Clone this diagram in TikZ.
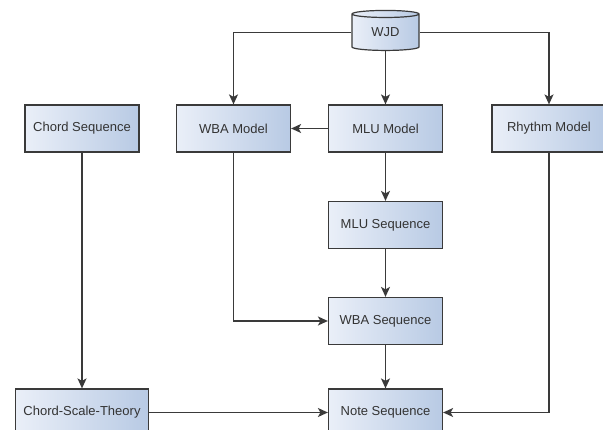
\documentclass[tikz,border=0pt]{standalone}
\usepackage{fontspec}
\setmainfont{Liberation Sans}
\usepackage{xcolor}
\usepackage{tikz}
\usetikzlibrary{arrows.meta,shapes.geometric}
\definecolor{boxlite}{RGB}{234,239,248}
\definecolor{boxdark}{RGB}{184,202,228}
\definecolor{edge}{RGB}{58,58,58}
\definecolor{ink}{RGB}{51,51,51}

\begin{document}
\begin{tikzpicture}[x=1pt, y=-1pt,
  every node/.style={font=\fontsize{13}{15}\selectfont, text=ink},
  box/.style={draw=edge, line width=1.2pt, left color=boxlite, right color=boxdark,
    minimum width=114pt, minimum height=47pt, inner sep=0pt},
  db/.style={cylinder, shape border rotate=90, aspect=0.25, draw=edge, line width=1.2pt,
    left color=boxlite, right color=boxdark, minimum width=67pt, minimum height=40pt,
    inner sep=0pt},
  link/.style={draw=edge, line width=1.4pt, -{Stealth[length=10pt,width=9pt,inset=2.5pt]}}]
\useasboundingbox (0,0) rectangle (603,430);
% ---- source
\node[db] (wjd) at (385.5,32.5) {WJD};
% ---- models
\node[box] (chord) at (82,128.5) {Chord Sequence};
\node[box] (wbam) at (233.5,128.5) {WBA Model};
\node[box] (mlum) at (385.5,128.5) {MLU Model};
\node[box] (rhythm) at (549,128.5) {Rhythm Model};
% ---- sequences
\node[box] (mlus) at (385.5,225) {MLU Sequence};
\node[box] (wbas) at (385.5,321) {WBA Sequence};
\node[box, minimum width=133pt] (cst) at (82,412.5) {Chord-Scale-Theory};
\node[box] (notes) at (385.5,412.5) {Note Sequence};
% ---- links
\draw[link] (wjd.west) -| (wbam.north);
\draw[link] (wjd.east) -| (rhythm.north);
\draw[link] (wjd.south) -- (mlum.north);
\draw[link] (mlum.west) -- (wbam.east);
\draw[link] (mlum) -- (mlus);
\draw[link] (mlus) -- (wbas);
\draw[link] (wbas) -- (notes);
\draw[link] (wbam.south) |- (wbas.west);
\draw[link] (chord) -- (cst);
\draw[link] (cst) -- (notes);
\draw[link] (rhythm.south) |- (notes.east);
\end{tikzpicture}
\end{document}
